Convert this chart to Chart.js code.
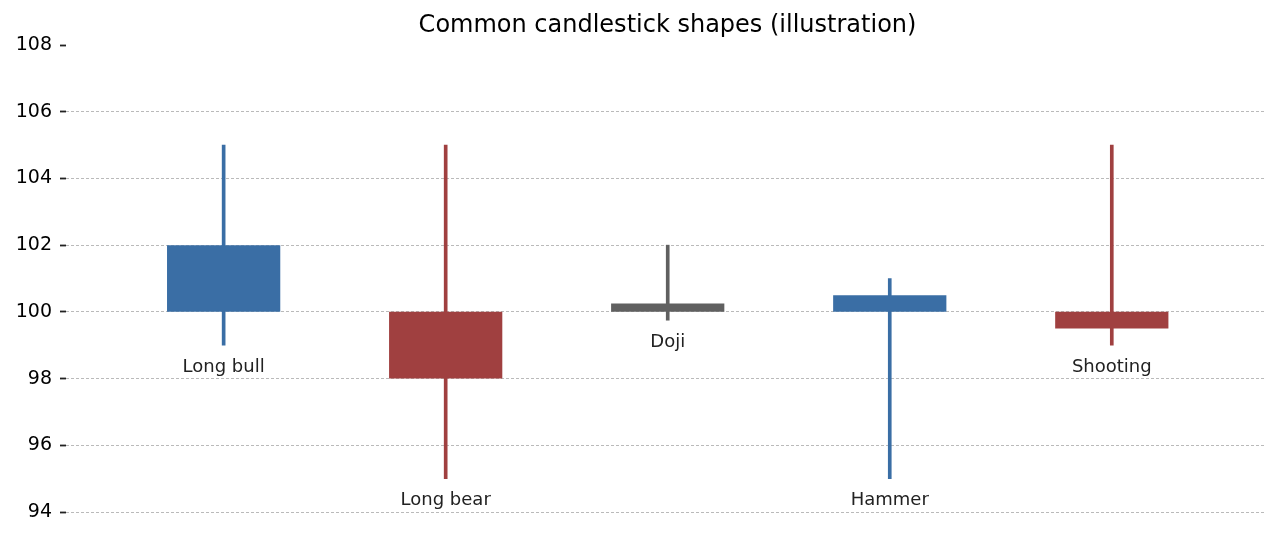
<!DOCTYPE html>
<html>
<head>
<meta charset="utf-8">
<script src="https://cdn.jsdelivr.net/npm/chart.js@4"></script>
<style>
  html, body { margin: 0; padding: 0; background: #ffffff; }
  #wrap { width: 1281px; height: 560px; }
</style>
</head>
<body>
<div id="wrap"><canvas id="chart" width="1281" height="560"></canvas></div>
<script>
// candle data (x positions are 0..4)
const shapes = ['Long bull', 'Long bear', 'Doji', 'Hammer', 'Shooting'];
const opens  = [100, 100, 100,   100,   100];
const closes = [102,  98, 100.25, 100.5, 99.5];
const highs  = [105, 105, 102,   101,   105];
const lows   = [ 99,  95,  99.75, 95,    99];
const yTicks = [94, 96, 98, 100, 102, 104, 106, 108];

const BULL = '#3a6ea5';
const BEAR = '#a04040';
const FLAT = '#606060';

function candleColor(i) {
    const diff = closes[i] - opens[i];
    if (Math.abs(diff) < 0.3) return FLAT;
    return diff > 0 ? BULL : BEAR;
}

const colors = shapes.map((_, i) => candleColor(i));
const bodies = shapes.map((_, i) => ({x: i, y: [opens[i], closes[i]]}));
const wicks = shapes.map((_, i) => ({x: i, y: [lows[i], highs[i]]}));

// title centred over the plot area
const titlePlugin = {
    id: 'plotTitle',
    afterDraw(chart) {
        const ctx = chart.ctx;
        const area = chart.chartArea;
        ctx.save();
        ctx.font = '24px "DejaVu Sans"';
        ctx.fillStyle = '#000';
        ctx.textAlign = 'center';
        ctx.textBaseline = 'middle';
        ctx.fillText('Common candlestick shapes (illustration)', (area.left + area.right) / 2 + 2, 26);
        ctx.restore();
    }
};

// shape name under each candle's low
const labelPlugin = {
    id: 'shapeLabels',
    afterDatasetsDraw(chart) {
        const ctx = chart.ctx;
        const xs = chart.scales.x;
        const ys = chart.scales.y;
        ctx.save();
        ctx.font = '18px "DejaVu Sans"';
        ctx.fillStyle = '#222';
        ctx.textAlign = 'center';
        ctx.textBaseline = 'middle';
        shapes.forEach((name, i) => {
            ctx.fillText(name, xs.getPixelForValue(i), ys.getPixelForValue(lows[i] - 0.66));
        });
        ctx.restore();
    }
};

new Chart(document.getElementById('chart'), {
    type: 'bar',
    data: {
        datasets: [{
            label: 'Body',
            data: bodies,
            backgroundColor: colors,
            borderWidth: 0,
            categoryPercentage: 1,
            barPercentage: 0.51,
            grouped: false,
            order: 0
        }, {
            label: 'Wick',
            data: wicks,
            backgroundColor: colors,
            borderWidth: 0,
            barThickness: 3,
            grouped: false,
            order: 1
        }]
    },
    options: {
        responsive: false,
        animation: false,
        layout: {
            padding: {top: 45, right: 16, bottom: 48, left: 0}
        },
        plugins: {
            legend: {display: false},
            tooltip: {enabled: false},
            title: {display: false}
        },
        scales: {
            x: {
                type: 'linear',
                min: -0.71,
                max: 4.69,
                offset: false,
                display: false,
                afterBuildTicks: scale => {
                    scale.ticks = shapes.map((_, i) => ({value: i}));
                }
            },
            y: {
                min: 94,
                max: 108,
                afterBuildTicks: scale => {
                    scale.ticks = yTicks.map(v => ({value: v}));
                },
                afterFit: scale => {
                    scale.width = 66;
                },
                border: {display: false, dash: [3, 2]},
                grid: {
                    color: c => (c.tick && c.tick.value === 108) ? 'rgba(0,0,0,0)' : '#a8a8a8',
                    lineWidth: 0.8,
                    drawTicks: true,
                    tickLength: 6,
                    tickColor: '#222',
                    tickWidth: 1.8
                },
                ticks: {
                    color: '#000',
                    padding: 8,
                    font: {family: '"DejaVu Sans"', size: 19}
                }
            }
        }
    },
    plugins: [titlePlugin, labelPlugin]
});
</script>
</body>
</html>
